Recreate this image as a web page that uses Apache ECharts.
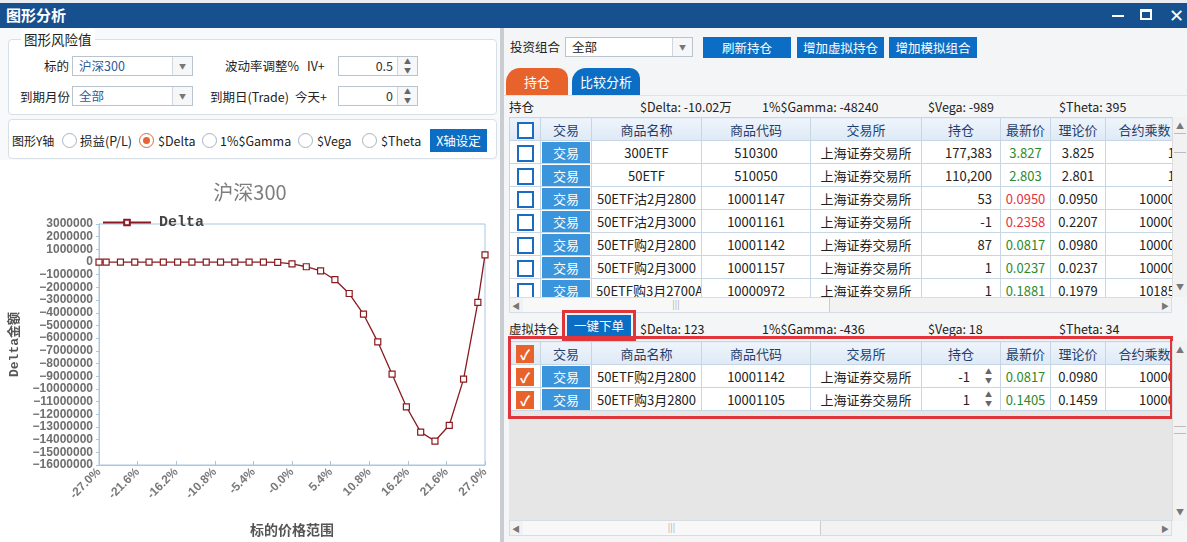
<!DOCTYPE html>
<html><head><meta charset="utf-8">
<script src="https://cdn.jsdelivr.net/npm/echarts@6/dist/echarts.min.js"></script>
<style>
*{box-sizing:border-box}
body{margin:0;width:1187px;height:542px;overflow:hidden;position:relative;background:#fff;font-family:"Noto Sans CJK SC","Noto Sans",sans-serif;font-size:13px;color:#222}
.a{position:absolute;white-space:nowrap}
.lbl{position:absolute;white-space:nowrap;line-height:20px;font-size:12.5px;color:#222}
.combo{position:absolute;height:20px;border:1px solid #b9c4cf;background:#fff;line-height:18px;padding-left:6px;color:#2e5c98;font-size:12.5px}
.combo .dd{position:absolute;right:0;top:0;width:20px;height:18px;border-left:1px solid #d0d6dc;background:#f6f7f8;color:#777;font-size:7px;text-align:center;line-height:18px}
.spin{position:absolute;height:20px;border:1px solid #b9c4cf;background:#fff;line-height:18px;text-align:right;padding-right:24px;font-size:12.5px;color:#333}
.spin .sb{position:absolute;right:0;top:0;width:20px;height:18px;border-left:1px solid #d0d6dc;background:#f6f7f8;color:#666;font-size:7px;line-height:9px;text-align:center}
.radio{position:absolute;width:15px;height:15px;border:1px solid #a9b3bd;border-radius:50%;background:#fff}
.radio.on{border-color:#e2663a}
.radio.on:after{content:"";position:absolute;left:3px;top:3px;width:7px;height:7px;border-radius:50%;background:#e2663a}
.btn{position:absolute;background:#0b6ec4;color:#fff;text-align:center;font-size:12.5px}
table{border-collapse:collapse;table-layout:fixed;font-size:13px}
td,th{border:1px solid #c7d6e4;height:23px;padding:0 4px;overflow:hidden;white-space:nowrap}
th{background:linear-gradient(#eef4fb,#dfeaf6);font-weight:normal;color:#1f3f6a;text-align:center}
td{background:#fff;text-align:center;color:#222}
td.r{text-align:right;padding-right:8px}
td.g{color:#2d8a2d}
td.red{color:#e2343f}
.cb{display:inline-block;width:17px;height:17px;border:2px solid #1b6cc0;background:#fff;vertical-align:middle}
.cbo{display:inline-block;width:18px;height:18px;background:#e8622c;color:#fff;vertical-align:middle;font-size:14px;line-height:18px;text-align:center;font-weight:bold}
.tb{display:block;background:#3b95dc;color:#fff;height:21px;line-height:21px;margin:0 -3px}
.vs{position:absolute;width:15px;background:#f2f2f2;border-left:1px solid #dcdcdc}
.hs{position:absolute;height:16px;background:#f2f2f2;border:1px solid #d6dde4}
.arr{position:absolute;font-size:8px;color:#777}
</style></head>
<body>
<script>
// ---- chart data ----
const xValues = [-27,-26,-24,-22,-20,-18,-16,-14,-12,-10,-8,-6,-4,-2,0,2,4,6,8,10,12,14,16,18,20,22,24,26,27];
const deltaValues = [0,0,0,0,0,0,0,0,0,0,0,0,-10000,-30000,-140000,-370000,-690000,-1390000,-2480000,-4110000,-6290000,-8840000,-11410000,-13410000,-14110000,-12870000,-9230000,-3180000,560000];
const xTickLabels = ['-27.0%','-21.6%','-16.2%','-10.8%','-5.4%','-0.0%','5.4%','10.8%','16.2%','21.6%','27.0%'];
const seriesName = 'Delta';
const chartTitle = '沪深300';
// ---- table data ----
const headers = ['交易','商品名称','商品代码','交易所','持仓','最新价','理论价','合约乘数'];
const names1 = ['300ETF','50ETF','50ETF沽2月2800','50ETF沽2月3000','50ETF购2月2800','50ETF购2月3000','50ETF购3月2700A'];
const codes1 = ['510300','510050','10001147','10001161','10001142','10001157','10000972'];
const pos1 = ['177,383','110,200','53','-1','87','1','1'];
const last1 = ['3.827','2.803','0.0950','0.2358','0.0817','0.0237','0.1881'];
const lastColor1 = ['g','g','red','red','g','g','g'];
const theo1 = ['3.825','2.801','0.0950','0.2207','0.0980','0.0237','0.1979'];
const mult1 = ['1','1','10000','10000','10000','10000','10185'];
const names2 = ['50ETF购2月2800','50ETF购3月2800'];
const codes2 = ['10001142','10001105'];
const pos2 = ['-1','1'];
const last2 = ['0.0817','0.1405'];
const theo2 = ['0.0980','0.1459'];
const mult2 = ['10000','10000'];
</script>

<!-- window title -->
<div class="a" style="left:0;top:0;width:1187px;height:3px;background:#e9edf1"></div>
<div class="a" style="left:0;top:3px;width:1187px;height:25px;background:#17508f"></div>
<div class="a" style="left:6px;top:4px;color:#fff;font-size:15px;font-weight:bold;line-height:22px">图形分析</div>
<div class="a" style="left:1112px;top:15px;width:12px;height:2px;background:#fff"></div>
<div class="a" style="left:1140px;top:9px;width:12px;height:11px;border:2px solid #fff;border-top-width:3px"></div>
<div class="a" style="left:1169px;top:2px;color:#fff;font-size:18px;line-height:24px">✕</div>

<!-- left panel -->
<div class="a" style="left:0;top:28px;width:500px;height:514px;background:#f7f9fb"></div>
<div class="a" style="left:8px;top:39px;width:489px;height:76px;border:1px solid #d8e0e7;border-radius:4px;background:#fff"></div>
<div class="a" style="left:21px;top:29px;padding:0 3px;background:#fff;font-size:13.5px;line-height:20px;color:#222">图形风险值</div>
<div class="lbl" style="left:44px;top:56px">标的</div>
<div class="combo" style="left:72px;top:56px;width:121px">沪深300<div class="dd">▼</div></div>
<div class="lbl" style="left:225px;top:56px">波动率调整%</div>
<div class="lbl" style="left:307px;top:56px">IV+</div>
<div class="spin" style="left:338px;top:56px;width:80px">0.5<div class="sb">▲<br>▼</div></div>
<div class="lbl" style="left:20px;top:87px">到期月份</div>
<div class="combo" style="left:72px;top:86px;width:121px">全部<div class="dd">▼</div></div>
<div class="lbl" style="left:210px;top:87px">到期日(Trade)</div>
<div class="lbl" style="left:295px;top:87px">今天+</div>
<div class="spin" style="left:338px;top:86px;width:80px">0<div class="sb">▲<br>▼</div></div>

<div class="a" style="left:8px;top:119px;width:489px;height:40px;border:1px solid #d8e0e7;border-radius:4px;background:#fff"></div>
<div class="lbl" style="left:12px;top:131px;font-size:12px">图形Y轴</div>
<div class="radio" style="left:62px;top:133px"></div><div class="lbl" style="left:80px;top:131px">损益(P/L)</div>
<div class="radio on" style="left:139px;top:133px"></div><div class="lbl" style="left:158px;top:131px">$Delta</div>
<div class="radio" style="left:202px;top:133px"></div><div class="lbl" style="left:220px;top:131px">1%$Gamma</div>
<div class="radio" style="left:298px;top:133px"></div><div class="lbl" style="left:317px;top:131px">$Vega</div>
<div class="radio" style="left:362px;top:133px"></div><div class="lbl" style="left:381px;top:131px">$Theta</div>
<div class="btn" style="left:430px;top:129px;width:57px;height:23px;line-height:23px">X轴设定</div>

<div id="chart" class="a" style="left:0;top:160px;width:500px;height:382px;background:#fff"></div>

<!-- divider -->
<div class="a" style="left:500px;top:28px;width:4px;height:514px;background:#c9ccd0"></div>

<!-- right panel -->
<div class="a" style="left:504px;top:28px;width:683px;height:514px;background:#f4f5f6"></div>
<div class="lbl" style="left:510px;top:37px">投资组合</div>
<div class="combo" style="left:565px;top:37px;width:128px;color:#222">全部<div class="dd">▼</div></div>
<div class="btn" style="left:703px;top:37px;width:88px;height:21px;line-height:21px">刷新持仓</div>
<div class="btn" style="left:797px;top:37px;width:87px;height:21px;line-height:21px">增加虚拟持仓</div>
<div class="btn" style="left:889px;top:37px;width:88px;height:21px;line-height:21px">增加模拟组合</div>
<div class="a" style="left:506px;top:68px;width:62px;height:27px;background:#e8622c;border-radius:14px 10px 0 0;color:#fff;text-align:center;line-height:27px">持仓</div>
<div class="a" style="left:572px;top:68px;width:68px;height:27px;background:#0b6ec4;border-radius:14px 10px 0 0;color:#fff;text-align:center;line-height:27px">比较分析</div>
<div class="a" style="left:504px;top:95px;width:683px;height:1px;background:#dde3e8"></div>

<div class="lbl" style="left:509px;top:97px">持仓</div>
<div class="lbl" style="left:640px;top:97px">$Delta: -10.02万</div>
<div class="lbl" style="left:762px;top:97px">1%$Gamma: -48240</div>
<div class="lbl" style="left:928px;top:97px">$Vega: -989</div>
<div class="lbl" style="left:1059px;top:97px">$Theta: 395</div>

<div class="a" style="left:509px;top:117px;width:663px;height:180px;overflow:hidden;background:#fff" id="t1wrap"></div>
<div class="vs" style="left:1172px;top:117px;height:180px"></div>
<div class="arr" style="left:1176px;top:120px">▲</div>
<div class="a" style="left:1174px;top:133px;width:12px;height:20px;border-top:1px solid #bbb;border-bottom:1px solid #bbb"></div>
<div class="arr" style="left:1176px;top:281px">▼</div>
<div class="hs" style="left:509px;top:297px;width:663px"></div>
<div class="arr" style="left:512px;top:300px">◀</div>
<div class="a" style="left:523px;top:298px;width:307px;height:14px;background:#f8f8f8;border-right:1px solid #ccc;text-align:center;color:#aaa;font-size:9px;line-height:14px">|||</div>
<div class="arr" style="left:1161px;top:300px">▶</div>

<div class="lbl" style="left:509px;top:319px">虚拟持仓</div>
<div class="a" style="left:562px;top:310px;width:74px;height:31px;border:3px solid #e0353b"></div>
<div class="btn" style="left:567px;top:315px;width:64px;height:22px;line-height:22px">一键下单</div>
<div class="lbl" style="left:640px;top:319px">$Delta: 123</div>
<div class="lbl" style="left:762px;top:319px">1%$Gamma: -436</div>
<div class="lbl" style="left:928px;top:319px">$Vega: 18</div>
<div class="lbl" style="left:1059px;top:319px">$Theta: 34</div>

<div class="a" style="left:509px;top:341px;width:663px;height:180px;background:#e6e6e6"></div>
<div class="a" style="left:509px;top:341px;width:663px;height:70px;overflow:hidden" id="t2wrap"></div>
<div class="a" style="left:508px;top:336px;width:665px;height:83px;border:3px solid #e0353b"></div>
<div class="vs" style="left:1172px;top:341px;height:180px"></div>
<div class="arr" style="left:1176px;top:344px">▲</div>
<div class="a" style="left:1174px;top:426px;width:12px;height:8px;border-top:1px solid #bbb;border-bottom:1px solid #bbb"></div>
<div class="arr" style="left:1176px;top:506px">▼</div>
<div class="hs" style="left:509px;top:520px;width:663px"></div>
<div class="arr" style="left:512px;top:523px">◀</div>
<div class="a" style="left:523px;top:521px;width:298px;height:14px;background:#f8f8f8;border-right:1px solid #ccc;text-align:center;color:#aaa;font-size:9px;line-height:14px">|||</div>
<div class="arr" style="left:1161px;top:523px">▶</div>

<script>
const colW = [31,51,110,109,111,79,50,55,78];
function colgroup(){return '<colgroup>'+colW.map(w=>'<col style="width:'+w+'px">').join('')+'</colgroup>';}
function headRow(chk){return '<tr><th>'+chk+'</th>'+headers.map(h=>'<th>'+h+'</th>').join('')+'</tr>';}
const tw = colW.reduce((a,b)=>a+b,0);
let h1='<table style="width:'+tw+'px">'+colgroup()+headRow('<span class="cb"></span>');
for(let i=0;i<names1.length;i++){
  h1+='<tr><td><span class="cb"></span></td><td><span class="tb">交易</span></td><td>'+names1[i]+'</td><td>'+codes1[i]+'</td><td>上海证券交易所</td><td class="r">'+pos1[i]+'</td><td class="'+lastColor1[i]+'">'+last1[i]+'</td><td>'+theo1[i]+'</td><td class="r">'+mult1[i]+'</td></tr>';
}
h1+='</table>';
document.getElementById('t1wrap').innerHTML=h1;
let h2='<table style="width:'+tw+'px">'+colgroup()+headRow('<span class="cbo">✓</span>');
for(let i=0;i<names2.length;i++){
  h2+='<tr><td><span class="cbo">✓</span></td><td><span class="tb">交易</span></td><td>'+names2[i]+'</td><td>'+codes2[i]+'</td><td>上海证券交易所</td><td class="r" style="padding-right:30px;position:relative">'+pos2[i]+'<span style="position:absolute;right:8px;top:2px;font-size:7px;line-height:9px;color:#666">▲<br>▼</span></td><td class="g">'+last2[i]+'</td><td>'+theo2[i]+'</td><td class="r">'+mult2[i]+'</td></tr>';
}
h2+='</table>';
document.getElementById('t2wrap').innerHTML=h2;

const chart = echarts.init(document.getElementById('chart'), null, {renderer:'canvas'});
const axisBlue = '#a9c7de';
chart.setOption({
  animation:false,
  backgroundColor:'#fff',
  title:{text:chartTitle,left:'center',top:17,textStyle:{fontFamily:'Noto Sans CJK SC',fontSize:20,fontWeight:'normal',color:'#7e7e7e'}},
  legend:{left:97,top:50,itemWidth:48,itemHeight:7,itemGap:8,
    textStyle:{fontFamily:'Liberation Mono',fontWeight:'bold',fontSize:15,color:'#444',padding:[0,0,0,3]},
    data:[seriesName]},
  grid:{left:98,right:15,top:64,bottom:74,show:true,borderColor:axisBlue,borderWidth:1,containLabel:false},
  xAxis:{type:'value',min:-27,max:27,interval:5.4,
    name:'标的价格范围',nameLocation:'middle',nameGap:58,
    nameTextStyle:{fontFamily:'Noto Sans CJK SC',fontWeight:'bold',fontSize:14,color:'#555'},
    axisLine:{onZero:false,lineStyle:{color:axisBlue}},
    axisTick:{show:true,inside:true,length:4,lineStyle:{color:axisBlue}},
    splitLine:{show:false},
    axisLabel:{rotate:45,margin:5,color:'#7a7a7a',fontWeight:'bold',fontSize:12,fontFamily:'Liberation Sans',
      formatter:v=>xTickLabels[Math.round((v+27)/5.4)]}},
  yAxis:{type:'value',min:-16000000,max:3000000,interval:1000000,
    name:'Delta金额',nameLocation:'middle',nameGap:78,nameRotate:90,
    nameTextStyle:{fontFamily:'Liberation Mono, Noto Sans CJK SC',fontWeight:'bold',fontSize:13,color:'#555'},
    axisLine:{show:true,onZero:false,lineStyle:{color:axisBlue}},
    axisTick:{show:true,length:3,lineStyle:{color:axisBlue}},
    splitLine:{show:false},
    axisLabel:{margin:6,color:'#6e6e6e',fontWeight:'bold',fontSize:12,fontFamily:'Liberation Sans',
      formatter:v=>String(v).replace('-','\u2212')}},
  series:[{name:seriesName,type:'line',data:xValues.map((x,i)=>[x,deltaValues[i]]),
    symbol:'rect',symbolSize:6,showAllSymbol:true,
    lineStyle:{color:'#8b1a1f',width:1.3},
    itemStyle:{color:'#fff',borderColor:'#8b1a1f',borderWidth:1.2}}]
});
</script>
</body></html>
